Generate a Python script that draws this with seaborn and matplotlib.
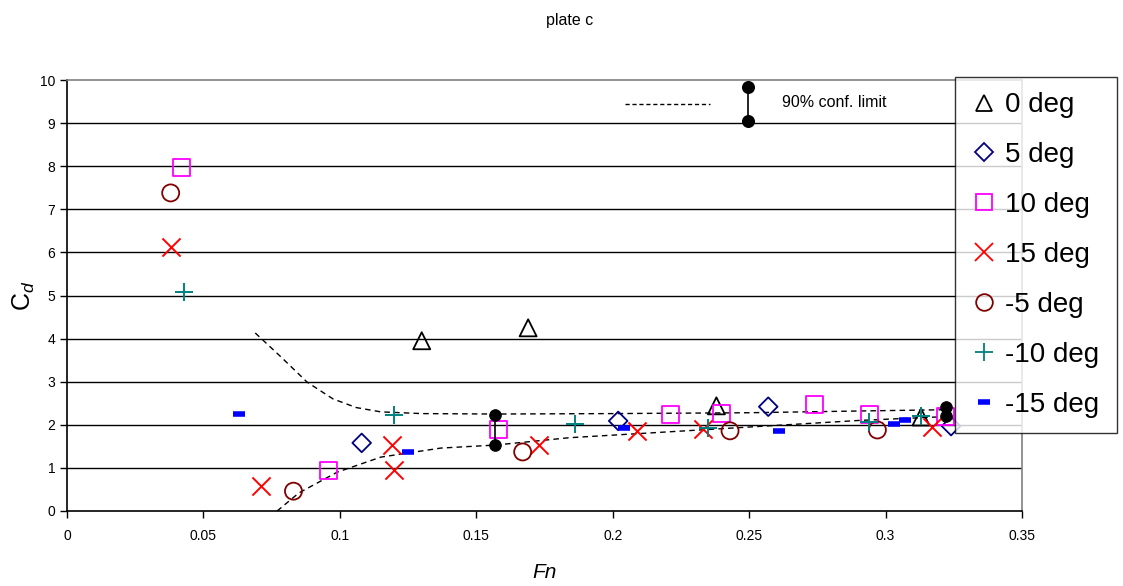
import numpy as np
import pandas as pd
import matplotlib
matplotlib.use("Agg")
import matplotlib.pyplot as plt
import seaborn as sns

sns.set_style("white")
plt.rcParams['font.family'] = ['Liberation Sans', 'DejaVu Sans']
plt.rcParams['text.color'] = 'black'
plt.rcParams['axes.labelcolor'] = 'black'
plt.rcParams['xtick.color'] = 'black'
plt.rcParams['ytick.color'] = 'black'
plt.rcParams['mathtext.fontset'] = 'custom'
plt.rcParams['mathtext.rm'] = 'Liberation Sans'
plt.rcParams['mathtext.it'] = 'Liberation Sans:italic'

# ---- data ----
fn_0 = [0.130, 0.169, 0.238, 0.313]
cd_0 = [3.95, 4.25, 2.44, 2.18]

fn_5 = [0.108, 0.202, 0.257, 0.324]
cd_5 = [1.58, 2.09, 2.42, 1.97]

fn_10 = [0.042, 0.096, 0.158, 0.221, 0.240, 0.274, 0.294, 0.322]
cd_10 = [7.98, 0.95, 1.88, 2.23, 2.27, 2.46, 2.23, 2.20]

fn_15 = [0.038, 0.071, 0.119, 0.120, 0.173, 0.209, 0.233, 0.317]
cd_15 = [6.12, 0.58, 1.53, 0.95, 1.53, 1.86, 1.90, 1.95]

fn_m5 = [0.038, 0.083, 0.167, 0.243, 0.297]
cd_m5 = [7.38, 0.46, 1.37, 1.86, 1.88]

fn_m10 = [0.043, 0.120, 0.186, 0.235, 0.294, 0.313]
cd_m10 = [5.08, 2.22, 2.02, 1.93, 2.07, 2.20]

fn_m15 = [0.063, 0.125, 0.204, 0.261, 0.303, 0.307]
cd_m15 = [2.25, 1.37, 1.93, 1.86, 2.03, 2.10]

# 90% confidence limit curves
upper_fn = [0.069, 0.078, 0.088, 0.0975, 0.106, 0.115, 0.130, 0.157, 0.200, 0.250, 0.290, 0.322]
upper_cd = [4.13, 3.60, 2.99, 2.60, 2.40, 2.30, 2.26, 2.25, 2.26, 2.28, 2.32, 2.35]
lower_fn = [0.077, 0.085, 0.099, 0.115, 0.137, 0.157, 0.184, 0.232, 0.290, 0.322]
lower_cd = [0.00, 0.42, 0.90, 1.25, 1.46, 1.53, 1.70, 1.88, 2.10, 2.19]

# confidence error bars
ci_fn = [0.157, 0.322]
ci_lo = [1.53, 2.20]
ci_hi = [2.22, 2.41]

x_ticks = [0, 0.05, 0.1, 0.15, 0.2, 0.25, 0.3, 0.35]
x_ticklabels = ["0", "0.05", "0.1", "0.15", "0.2", "0.25", "0.3", "0.35"]
y_ticks = list(range(0, 11))

series = [
    ("0 deg", fn_0, cd_0, "^", "black", True),
    ("5 deg", fn_5, cd_5, "D", "#000080", True),
    ("10 deg", fn_10, cd_10, "s", "#FF00FF", True),
    ("15 deg", fn_15, cd_15, "x", "#FF0000", False),
    ("-5 deg", fn_m5, cd_m5, "o", "#800000", True),
    ("-10 deg", fn_m10, cd_m10, "+", "#008080", False),
    ("-15 deg", fn_m15, cd_m15, "_", "#0000FF", False),
]

fig = plt.figure(figsize=(11.23, 5.86), dpi=100)
ax = fig.add_axes([67/1123, 1-511/586, (1022-67)/1123, (511-80)/586])

# grid lines
for y in range(1, 10):
    ax.axhline(y, color="black", lw=1.0, zorder=0)

# curves
sns.lineplot(x=upper_fn, y=upper_cd, ax=ax, color="black", lw=1.0, sort=False,
             estimator=None, linestyle=(0, (4, 3)), zorder=2)
sns.lineplot(x=lower_fn, y=lower_cd, ax=ax, color="black", lw=1.0, sort=False,
             estimator=None, linestyle=(0, (4, 3)), zorder=2)

handles = []
for label, xs, ys, mk, col, hollow in series:
    df = pd.DataFrame({"Fn": xs, "Cd": ys})
    if mk == "_":
        sns.scatterplot(data=df, x="Fn", y="Cd", ax=ax, marker="_", s=80,
                        color=col, linewidth=4, zorder=3)
        h = plt.Line2D([], [], marker="_", color=col, ls="none", ms=8, mew=4)
    elif hollow:
        sns.scatterplot(data=df, x="Fn", y="Cd", ax=ax, marker=mk,
                        s=150 if mk != "D" else 90,
                        facecolor="none", edgecolor=col, linewidth=1.3, zorder=3)
        h = plt.Line2D([], [], marker=mk, color=col, mfc="none", ls="none",
                       ms=12 if mk != "D" else 9.5, mew=1.3)
    else:
        sns.scatterplot(data=df, x="Fn", y="Cd", ax=ax, marker=mk, s=170,
                        color=col, linewidth=1.4, zorder=3)
        h = plt.Line2D([], [], marker=mk, color=col, ls="none", ms=13, mew=1.3)
    handles.append((h, label))

# confidence bars
for xv, lo, hi in zip(ci_fn, ci_lo, ci_hi):
    ax.plot([xv, xv], [lo, hi], color="black", lw=1.2, zorder=4)
sns.scatterplot(x=ci_fn + ci_fn, y=ci_lo + ci_hi, ax=ax, color="black", s=70,
                marker="o", edgecolor="black", zorder=5)

# annotation key
ax.plot([0.2045, 0.2357], [9.44, 9.44], color="black", lw=1.0, linestyle=(0, (3, 2)))
ax.plot([0.2496, 0.2496], [9.05, 9.84], color="black", lw=1.2)
ax.scatter([0.2496, 0.2496], [9.05, 9.84], color="black", s=70, zorder=5)
ax.text(0.262, 9.47, "90% conf. limit", fontsize=11.5, va="center", ha="left")

ax.set_xlim(0, 0.35)
ax.set_ylim(0, 10)
ax.set_xticks(x_ticks)
ax.set_xticklabels(x_ticklabels)
ax.set_yticks(y_ticks)
ax.tick_params(axis="both", direction="out", length=5, width=1, labelsize=10,
               left=True, bottom=True, color="black")
ax.tick_params(axis="x", pad=8)
for s in ["left", "bottom"]:
    ax.spines[s].set_color("black")
    ax.spines[s].set_linewidth(1.2)
for s in ["top", "right"]:
    ax.spines[s].set_color("#808080")
    ax.spines[s].set_linewidth(1.2)

ax.set_xlabel("Fn", fontsize=15, fontstyle="italic", labelpad=14)
ax.set_ylabel("$\\mathrm{C}_{\\mathit{d}}$", fontsize=18, labelpad=2)
fig.text(570/1123, 1-20/586, "plate c", ha="center", va="center", fontsize=11.5)

leg = fig.legend([h for h, _ in handles], [l for _, l in handles],
                 loc="upper left",
                 bbox_to_anchor=(955/1123, 1-428/586, 162/1123, 351/586),
                 mode="expand",
                 fontsize=20, frameon=True, fancybox=False, edgecolor="black",
                 handlelength=1.0, handletextpad=0.25, labelspacing=0.86,
                 borderpad=0.55, borderaxespad=0)
leg.get_frame().set_linewidth(1.0)
leg.set_zorder(10)

fig.savefig("out.png", dpi=100)
